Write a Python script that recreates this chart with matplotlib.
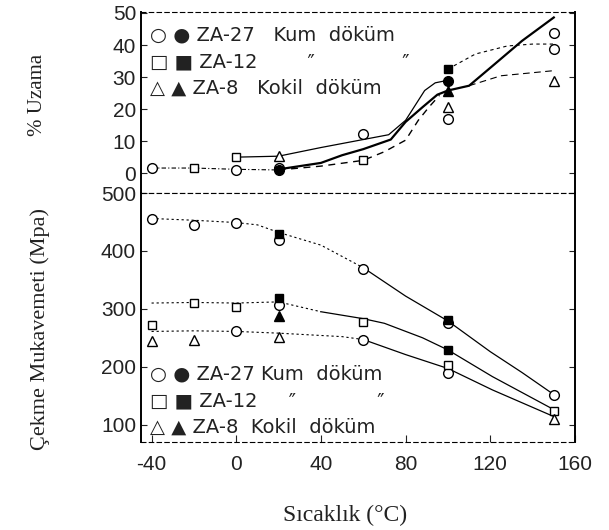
import numpy as np
import matplotlib
matplotlib.use('Agg')
import matplotlib.pyplot as plt

plt.rcParams['axes.unicode_minus'] = False

# --- % Uzama (elongation), top panel ---
# markers
el_open_circle_t = [-40, 0, 20, 60, 100, 150, 150]
el_open_circle_v = [1.6, 0.9, 1.6, 12.3, 17.0, 43.9, 38.7]
el_open_square_t = [-20, 0, 60]
el_open_square_v = [1.6, 5.0, 4.0]
el_open_tri_t = [20, 100, 150]
el_open_tri_v = [5.3, 20.6, 28.9]
el_fill_circle_t = [20, 100]
el_fill_circle_v = [0.9, 28.9]
el_fill_square_t = [100]
el_fill_square_v = [32.5]
el_fill_tri_t = [100]
el_fill_tri_v = [25.8]

# curves traced through the picture
el_a_t = [0, 20, 40, 60, 72, 80, 89, 94, 100]
el_a_v = [5.0, 5.3, 8.0, 10.5, 12.0, 16.5, 25.8, 28.2, 29.0]
el_b_t = [20, 40, 50, 60, 73, 80, 88, 95, 100, 110, 122, 135, 150]
el_b_v = [1.2, 3.2, 5.6, 7.5, 10.5, 16.0, 20.6, 24.5, 25.8, 27.3, 34.0, 41.3, 48.6]
el_c_t = [20, 40, 60, 70, 80, 86, 91, 96]
el_c_v = [1.0, 2.2, 4.0, 6.7, 10.3, 16.5, 20.6, 24.3]
el_d_t = [100, 113, 128, 140, 150]
el_d_v = [32.5, 37.2, 39.7, 40.3, 40.3]
el_e_t = [110, 125, 150]
el_e_v = [27.3, 30.4, 32.0]
el_f_t = [-40, -20, 0, 20]
el_f_v = [1.6, 1.6, 1.2, 1.0]

# --- Cekme mukavemeti (tensile strength), bottom panel ---
ts_open_circle_t = [-40, -20, 0, 20, 60, 100, 150, 0, 20, 60, 100]
ts_open_circle_v = [456, 445, 449, 419, 368, 276, 152, 261, 307, 246, 189]
ts_open_square_t = [-40, -20, 0, 60, 100, 150]
ts_open_square_v = [272, 310, 304, 278, 203, 123]
ts_open_tri_t = [-40, -20, 20, 150]
ts_open_tri_v = [245, 247, 252, 109]
ts_fill_square_t = [20, 100, 20, 100]
ts_fill_square_v = [430, 281, 318, 229]
ts_fill_tri_t = [20]
ts_fill_tri_v = [287]

ts_top_t = [-40, -20, 0, 10, 20, 40, 60, 80, 100, 120, 135, 150]
ts_top_v = [456, 453, 449, 445, 432, 410, 371, 322, 279, 226, 190, 152]
ts_mid_t = [-40, -20, 0, 20, 40, 60, 70, 88, 100, 121, 150]
ts_mid_v = [310, 311, 310, 312, 295, 283, 275, 250, 229, 183, 126]
ts_low_t = [-40, -20, 0, 20, 40, 50, 60, 80, 100, 121, 150]
ts_low_v = [261, 262, 261, 258, 254, 252, 247, 221, 197, 160, 114]

x_ticks = [-40, 0, 40, 80, 120, 160]
el_ticks = [0, 10, 20, 30, 40, 50]
ts_ticks = [100, 200, 300, 400, 500]

legend_top = ['\u25cb \u25cf ZA-27   Kum  d\u00f6k\u00fcm',
              '\u25a1 \u25a0 ZA-12        \u2033              \u2033',
              '\u25b3 \u25b2 ZA-8   Kokil  d\u00f6k\u00fcm']
legend_bot = ['\u25cb \u25cf ZA-27 Kum  d\u00f6k\u00fcm',
              '\u25a1 \u25a0 ZA-12     \u2033             \u2033',
              '\u25b3 \u25b2 ZA-8  Kokil  d\u00f6k\u00fcm']


def split_curve(ax, t, v, split, lw=0.9):
    # dotted up to the split temperature, solid from there on
    t = np.asarray(t)
    v = np.asarray(v)
    k = int(np.searchsorted(t, split))
    ax.plot(t[:k + 1], v[:k + 1], color='k', lw=0.8, ls=(0, (2, 2.5)), zorder=2)
    ax.plot(t[k:], v[k:], color='k', lw=lw, ls='-', zorder=2)


def markers(ax, t, v, m, filled, ms=7):
    ax.plot(t, v, ls='none', marker=m, ms=ms, mec='k', mew=1.0,
            mfc='k' if filled else 'white', zorder=3)


def style_axes(ax):
    for s in ['left', 'right']:
        ax.spines[s].set_linewidth(1.4)
    for s in ['top', 'bottom']:
        ax.spines[s].set_linewidth(0.8)
        ax.spines[s].set_linestyle((0, (4, 3)))
    ax.tick_params(direction='in', length=4, width=0.8, right=True,
                   labelsize=15, colors='#222')
    for lab in ax.get_yticklabels() + ax.get_xticklabels():
        lab.set_family('Liberation Sans')


fig = plt.figure(figsize=(6.09, 5.30), dpi=100)
ax1 = fig.add_axes([0.2315, 0.6358, 0.7126, 0.3415])
ax2 = fig.add_axes([0.2315, 0.166, 0.7126, 0.4698], sharex=ax1)

# top panel
ax1.plot(el_a_t, el_a_v, color='k', lw=0.9, zorder=2)
ax1.plot(el_b_t, el_b_v, color='k', lw=1.6, zorder=2)
ax1.plot(el_c_t, el_c_v, color='k', lw=1.0, ls=(0, (5, 4)), zorder=2)
ax1.plot(el_d_t, el_d_v, color='k', lw=0.8, ls=(0, (3, 3)), zorder=2)
ax1.plot(el_e_t, el_e_v, color='k', lw=0.8, ls=(0, (6, 4)), zorder=2)
ax1.plot(el_f_t, el_f_v, color='k', lw=0.8, ls=(0, (4, 2, 1, 2)), zorder=2)
markers(ax1, el_open_circle_t, el_open_circle_v, 'o', False)
markers(ax1, el_open_square_t, el_open_square_v, 's', False, ms=6)
markers(ax1, el_open_tri_t, el_open_tri_v, '^', False)
markers(ax1, el_fill_circle_t, el_fill_circle_v, 'o', True)
markers(ax1, el_fill_square_t, el_fill_square_v, 's', True, ms=6)
markers(ax1, el_fill_tri_t, el_fill_tri_v, '^', True)

ax1.set_xlim(-45, 160)
ax1.set_ylim(-6.2, 50.3)
ax1.set_yticks(el_ticks)
style_axes(ax1)
ax1.tick_params(labelbottom=False, bottom=False)

for i, txt in enumerate(legend_top):
    ax1.text(0.02, 0.873 - i * 0.147, txt, transform=ax1.transAxes,
             fontsize=14, family='DejaVu Sans', va='center', color='#222')

# bottom panel
split_curve(ax2, ts_top_t, ts_top_v, 55)
split_curve(ax2, ts_mid_t, ts_mid_v, 40)
split_curve(ax2, ts_low_t, ts_low_v, 55)
markers(ax2, ts_open_circle_t, ts_open_circle_v, 'o', False)
markers(ax2, ts_open_square_t, ts_open_square_v, 's', False, ms=6)
markers(ax2, ts_open_tri_t, ts_open_tri_v, '^', False)
markers(ax2, ts_fill_square_t, ts_fill_square_v, 's', True, ms=6)
markers(ax2, ts_fill_tri_t, ts_fill_tri_v, '^', True)

ax2.set_ylim(70, 500)
ax2.set_yticks(ts_ticks)
ax2.set_xticks(x_ticks)
style_axes(ax2)
ax2.tick_params(axis='x', pad=9, length=5)

for i, txt in enumerate(legend_bot):
    ax2.text(0.02, 0.273 - i * 0.107, txt, transform=ax2.transAxes,
             fontsize=14, family='DejaVu Sans', va='center', color='#222')

fig.text(0.062, 0.82, '% Uzama', rotation=90, ha='center', va='center',
         fontsize=15, family='Liberation Serif', color='#222')
fig.text(0.066, 0.38, '\u00c7ekme Mukavemeti (Mpa)', rotation=90,
         ha='center', va='center', fontsize=16, family='Liberation Serif',
         color='#222')
fig.text(0.567, 0.028, 'S\u0131cakl\u0131k (\u00b0C)', ha='center',
         va='center', fontsize=17, family='Liberation Serif', color='#222')

fig.savefig('out.png', dpi=100)
